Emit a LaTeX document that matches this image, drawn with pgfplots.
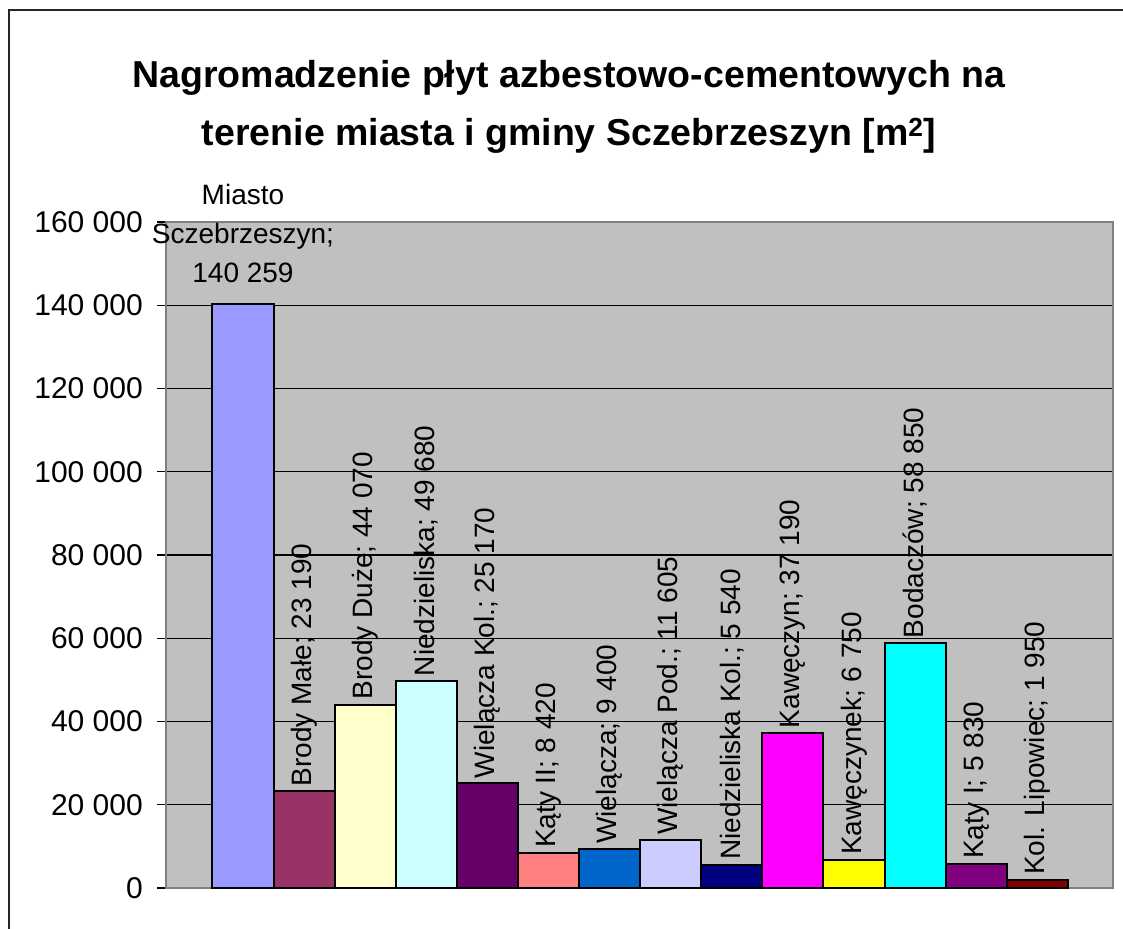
\documentclass[border=0pt]{standalone}
\usepackage{fontspec}
\setmainfont{Liberation Sans}
\usepackage{pgfplots}
\pgfplotsset{compat=1.18}
\definecolor{c1}{HTML}{9999FF}
\definecolor{c2}{HTML}{993366}
\definecolor{c3}{HTML}{FFFFCC}
\definecolor{c4}{HTML}{CCFFFF}
\definecolor{c5}{HTML}{660066}
\definecolor{c6}{HTML}{FF8080}
\definecolor{c7}{HTML}{0066CC}
\definecolor{c8}{HTML}{CCCCFF}
\definecolor{c9}{HTML}{000080}
\definecolor{c10}{HTML}{FF00FF}
\definecolor{c11}{HTML}{FFFF00}
\definecolor{c12}{HTML}{00FFFF}
\definecolor{c13}{HTML}{800080}
\definecolor{c14}{HTML}{800000}
\definecolor{plotgray}{HTML}{C0C0C0}
\definecolor{bordergray}{HTML}{808080}
\begin{document}
\begin{tikzpicture}[x=1pt,y=1pt]
\useasboundingbox (0,0) rectangle (1123,928);
\fill[white] (0,0) rectangle (1123,928);
\draw[line width=2pt, black!85] (9,-5) -- (9,918) -- (1130,918);
\node[anchor=base, font=\bfseries\fontsize{37.5}{42}\selectfont] at (569,840) {Nagromadzenie płyt azbestowo-cementowych na};
\node[anchor=base, font=\bfseries\fontsize{37.5}{42}\selectfont] at (569,782) {terenie miasta i gminy Sczebrzeszyn [m\textsuperscript{2}]};
\begin{axis}[
  at={(166pt,40pt)}, anchor=south west,
  width=947pt, height=666pt, scale only axis,
  xmin=-1.26, xmax=14.24, ymin=0, ymax=160000,
  scaled y ticks=false,
  ytick={0,20000,40000,60000,80000,100000,120000,140000,160000},
  yticklabels={0,20 000,40 000,60 000,80 000,100 000,120 000,140 000,160 000},
  xtick=\empty,
  ytick pos=left,
  tick align=outside,
  major tick length=9pt,
  tick style={black, line width=1.3pt},
  yticklabel style={font=\fontsize{30}{34}\selectfont, inner sep=0pt, anchor=east, xshift=-14pt},
  axis background/.style={fill=plotgray},
  ymajorgrids,
  grid style={black, line width=1.2pt},
  axis line style={bordergray, line width=2pt},
  ybar, bar width=1, bar shift=0pt,
  clip=false,
  every node near coord/.append style={rotate=90, anchor=west, black, font=\fontsize{28}{32}\selectfont, inner sep=4pt},
]
\addplot[fill=c1, draw=black, line width=2pt, nodes near coords={Miasto\\Sczebrzeszyn;\\140 259}, every node near coord/.style={rotate=0, anchor=south, align=center, black, font=\fontsize{28}{39}\selectfont, inner sep=0pt, yshift=20pt}] coordinates {(0,140259)};
\addplot[fill=c2, draw=black, line width=2pt, nodes near coords={Brody Małe; 23 190}] coordinates {(1,23190)};
\addplot[fill=c3, draw=black, line width=2pt, nodes near coords={Brody Duże; 44 070}] coordinates {(2,44070)};
\addplot[fill=c4, draw=black, line width=2pt, nodes near coords={Niedzieliska; 49 680}] coordinates {(3,49680)};
\addplot[fill=c5, draw=black, line width=2pt, nodes near coords={Wielącza Kol.; 25 170}] coordinates {(4,25170)};
\addplot[fill=c6, draw=black, line width=2pt, nodes near coords={Kąty II; 8 420}] coordinates {(5,8420)};
\addplot[fill=c7, draw=black, line width=2pt, nodes near coords={Wielącza; 9 400}] coordinates {(6,9400)};
\addplot[fill=c8, draw=black, line width=2pt, nodes near coords={Wielącza Pod.; 11 605}] coordinates {(7,11605)};
\addplot[fill=c9, draw=black, line width=2pt, nodes near coords={Niedzieliska Kol.; 5 540}] coordinates {(8,5540)};
\addplot[fill=c10, draw=black, line width=2pt, nodes near coords={Kawęczyn; 37 190}] coordinates {(9,37190)};
\addplot[fill=c11, draw=black, line width=2pt, nodes near coords={Kawęczynek; 6 750}] coordinates {(10,6750)};
\addplot[fill=c12, draw=black, line width=2pt, nodes near coords={Bodaczów; 58 850}] coordinates {(11,58850)};
\addplot[fill=c13, draw=black, line width=2pt, nodes near coords={Kąty I; 5 830}] coordinates {(12,5830)};
\addplot[fill=c14, draw=black, line width=2pt, nodes near coords={Kol. Lipowiec; 1 950}] coordinates {(13,1950)};
\end{axis}
\end{tikzpicture}
\end{document}
